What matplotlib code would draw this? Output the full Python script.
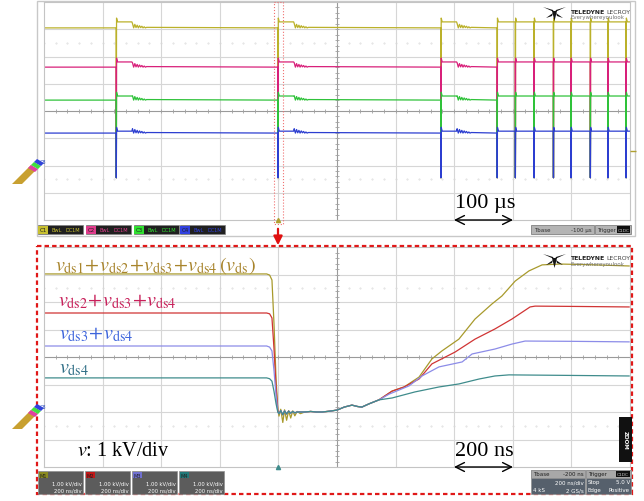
import numpy as np
import matplotlib.pyplot as plt
from matplotlib.patches import Rectangle, Polygon

plt.rcParams['mathtext.fontset'] = 'stix'
plt.rcParams['font.family'] = 'DejaVu Sans'

# ---------------- top screen (100 us/div, levels in divisions) ----------------
pulse_us = [123, 399, 677, 773, 804, 836, 869, 899, 932, 962, 993]
burst_from = 773          # from this pulse on the traces stay raised
top_base = [3.05, 1.61, 0.40, -0.81]
top_up = [0.22, 0.19, 0.15, 0.07]
top_colors = ['#bbb12a', '#d8207a', '#2fc23a', '#2c3ed0']
spike_low = -2.45
hold_us = 27
ring = [0.16, 0.0, 0.13, 0.01, 0.1, 0.0, 0.08, 0.01, 0.06, 0.0, 0.04, 0.0, 0.02]

# ---------------- zoomed screen (200 ns/div, kV) ----------------
names = ['yel', 'red', 'blu', 'teal']
bot_colors = ['#a89a2c', '#d03434', '#8c8ce8', '#3f8c8c']
drop_t = [0, 760, 770, 778, 785, 792, 798]
drop_v = {
    'yel': [5.02, 5.02, 4.98, 4.8, 3.2, 1.2, 0.1],
    'red': [3.6, 3.6, 3.57, 3.42, 2.3, 0.9, 0.05],
    'blu': [2.4, 2.4, 2.36, 2.22, 1.5, 0.6, 0.0],
    'teal': [1.24, 1.24, 1.21, 1.12, 0.75, 0.3, 0.0],
}
low_t = [802, 808, 815, 821, 828, 835, 842, 849, 856, 864, 875, 890, 910, 930,
         949, 975, 1000, 1025, 1051, 1070, 1085, 1110, 1143]
low_v_yel = [-0.15, 0.1, -0.38, 0.08, -0.3, 0.05, -0.22, 0.04, -0.14, 0.02, -0.06, 0.0,
             0.02, 0.0, 0.0, 0.03, 0.07, 0.18, 0.25, 0.2, 0.18, 0.3, 0.44]
low_v_rest = [-0.06, 0.05, -0.1, 0.04, -0.07, 0.03, -0.04, 0.02, -0.03, 0.0, 0.0, 0.0,
              0.02, 0.0, 0.0, 0.03, 0.07, 0.18, 0.25, 0.2, 0.18, 0.3, 0.44]
rise_t = {
    'yel': [1188, 1229, 1280, 1324, 1358, 1416, 1471, 1529, 1563, 1608, 1655, 1700, 1761, 1850, 1997],
    'red': [1188, 1229, 1280, 1324, 1403, 1471, 1539, 1597, 1659, 1676, 1800, 1997],
    'blu': [1178, 1246, 1290, 1348, 1427, 1461, 1539, 1597, 1642, 1800, 1997],
    'teal': [1188, 1266, 1348, 1416, 1485, 1539, 1587, 1800, 1997],
}
rise_v = {
    'yel': [0.76, 0.91, 1.27, 1.93, 2.22, 2.65, 3.38, 3.93, 4.22, 4.76, 5.13, 5.35, 5.38, 5.36, 5.31],
    'red': [0.76, 0.91, 1.2, 1.75, 2.18, 2.65, 3.02, 3.38, 3.82, 3.85, 3.84, 3.82],
    'blu': [0.65, 0.95, 1.31, 1.64, 1.82, 2.11, 2.29, 2.47, 2.58, 2.57, 2.55],
    'teal': [0.51, 0.73, 0.91, 1.02, 1.2, 1.31, 1.35, 1.33, 1.31],
}
labels = [r'$v_{\rm ds1}\!+\!v_{\rm ds2}\!+\!v_{\rm ds3}\!+\!v_{\rm ds4}\,(v_{\rm ds})$',
          r'$v_{\rm ds2}\!+\!v_{\rm ds3}\!+\!v_{\rm ds4}$',
          r'$v_{\rm ds3}\!+\!v_{\rm ds4}$',
          r'$v_{\rm ds4}$']
label_colors = ['#a8842c', '#c8205a', '#3c64dc', '#2f6e86']


def top_trace(base, up):
    t, v = [0], [base]
    for p in pulse_us:
        before = base + up if p > burst_from else base
        t += [p, p + 0.4, p + 0.8, p + 2.5]
        v += [before, spike_low, base + up + 0.14, base + up]
        if p < burst_from:
            t.append(p + hold_us)
            v.append(base + up)
            for k, r in enumerate(ring):
                t.append(p + hold_us + 1 + 2 * k)
                v.append(base + r)
    t.append(1000)
    v.append(v[-1])
    return t, v


def scope_grid(ax, xs, ys):
    xc, yc = xs[len(xs) // 2], ys[len(ys) // 2]
    for x in xs[1:-1]:
        ax.axvline(x, color='#9a9a9a' if x == xc else '#d6d6d6', lw=0.8, zorder=0)
    for y in ys[1:-1]:
        ax.axhline(y, color='#9a9a9a' if y == yc else '#d6d6d6', lw=0.8, zorder=0)
    fx = np.linspace(xs[0], xs[-1], 51)
    fy = np.linspace(ys[0], ys[-1], 41)
    ax.plot(fx, [yc] * len(fx), ls='none', marker='|', ms=3, color='#a0a0a0', mew=0.6, zorder=0)
    ax.plot([xc] * len(fy), fy, ls='none', marker='_', ms=3, color='#a0a0a0', mew=0.6, zorder=0)
    dy = (ys[1] - ys[0]) * 2.5
    for y in (yc - dy, yc + dy):
        ax.plot(fx, [y] * len(fx), ls='none', marker='.', ms=0.8, color='#d8d8d8', zorder=0)
    ax.set_xlim(xs[0], xs[-1])
    ax.set_ylim(ys[0], ys[-1])
    ax.set_xticks([])
    ax.set_yticks([])
    for s in ax.spines.values():
        s.set_color('#c4c4c4')


fig = plt.figure(figsize=(6.44, 5.02), dpi=100)

ax1 = fig.add_axes([44 / 644, 1 - 221 / 502, 586 / 644, 218 / 502])
scope_grid(ax1, np.linspace(0, 1000, 11), np.linspace(-4, 4, 9))
for base, up, c in zip(top_base, top_up, top_colors):
    t, v = top_trace(base, up)
    ax1.plot(t, v, color=c, lw=0.9)

ax2 = fig.add_axes([44 / 644, 1 - 468 / 502, 586 / 644, 220 / 502])
scope_grid(ax2, np.linspace(0, 2000, 11), np.linspace(-2, 6, 9))
for n, c in zip(names, bot_colors):
    t = drop_t + low_t + rise_t[n]
    v = drop_v[n] + (low_v_yel if n == 'yel' else low_v_rest) + rise_v[n]
    ax2.plot(t, v, color=c, lw=0.9)

# ---------------- overlay in pixel coordinates ----------------
ov = fig.add_axes([0, 0, 1, 1], zorder=5)
ov.set_xlim(0, 644)
ov.set_ylim(502, 0)
ov.axis('off')
ov.patch.set_alpha(0)

ov.add_patch(Rectangle((37, 2), 598, 235, fill=False, ec='#c8c8c8', lw=1))
ov.add_patch(Rectangle((274, 3), 9, 222, fill=False, ec='#f07070', lw=0.8, ls=':'))
ov.annotate('', xy=(278, 249), xytext=(278, 227),
            arrowprops=dict(arrowstyle='-|>', color='#e01010', lw=1.6, mutation_scale=13))
ov.add_patch(Rectangle((37, 247), 595, 248, fill=False, ec='#e01818', lw=1.6, ls=(0, (2, 1.4))))

serif = 'Liberation Serif'
for y in (221, 468):
    ov.annotate('', xy=(513, y), xytext=(454, y),
                arrowprops=dict(arrowstyle='<->', color='black', lw=1, mutation_scale=16,
                                shrinkA=0, shrinkB=0))
ov.text(455, 204, '100 µs', family=serif, fontsize=16, va='center', ha='left')
ov.text(455, 452, '200 ns', family=serif, fontsize=16, va='center', ha='left')
ov.text(77, 452, r'$v$: 1 kV/div', family=serif, fontsize=14.5, va='center', ha='left')

for lab, c, (x, y) in zip(labels, label_colors, [(55, 266), (58, 302), (59, 335), (59, 369)]):
    ov.text(x, y, lab, color=c, fontsize=14.5, va='center', ha='left')

# trigger markers
ov.plot([278], [221], marker='^', ms=3, color='#b0a030')
ov.plot([278], [468], marker='^', ms=3, color='#3f8c8c')
ov.plot([633], [152], marker='_', ms=4, color='#b0a030')

# channel badges (top)
c_lab = ['C1', 'C2', 'C3', 'C4']
c_bg = ['#c8c030', '#e03c8c', '#30e030', '#3040e0']
c_x = [38, 86, 134, 180]
for lab, bg, x in zip(c_lab, c_bg, c_x):
    ov.add_patch(Rectangle((x, 226), 45, 9, fc='#202020', ec='#808080', lw=0.5))
    ov.add_patch(Rectangle((x + 0.5, 226.5), 10, 8, fc=bg, ec='none'))
    ov.text(x + 5.5, 230.6, lab, fontsize=4, ha='center', va='center', color='#202020')
    ov.text(x + 19, 230.6, 'BwL', fontsize=3.6, ha='center', va='center', color=bg)
    ov.text(x + 35, 230.6, 'DC1M', fontsize=3.6, ha='center', va='center', color=bg)

ov.add_patch(Rectangle((531, 226), 63, 9, fc='#b4b4b4', ec='#707070', lw=0.5))
ov.text(534, 230.6, 'Tbase', fontsize=4, va='center', color='#303030')
ov.text(592, 230.6, '-100 µs', fontsize=4, va='center', ha='right', color='#303030')
ov.add_patch(Rectangle((595, 226), 36, 9, fc='#b4b4b4', ec='#707070', lw=0.5))
ov.text(597, 230.6, 'Trigger', fontsize=4, va='center', color='#303030')
ov.add_patch(Rectangle((617, 227), 13, 7, fc='#101010', ec='none'))
ov.text(623.5, 230.6, 'C1DC', fontsize=3.2, va='center', ha='center', color='#c8c8c8')

# math badges (bottom)
m_lab = ['M1', 'M2', 'M3', 'M4']
m_bg = ['#8a8a20', '#c01818', '#7070d0', '#207878']
m_x = [38, 85, 132, 179]
for lab, bg, x in zip(m_lab, m_bg, m_x):
    ov.add_patch(Rectangle((x, 472), 45, 23, fc='#5c5c5c', ec='#909090', lw=0.5))
    ov.add_patch(Rectangle((x + 1, 473), 9, 6, fc=bg, ec='none'))
    ov.text(x + 5.5, 476.2, lab, fontsize=3.6, ha='center', va='center', color='#202020')
    ov.text(x + 44, 484, '1.00 kV/div', fontsize=3.8, ha='right', va='center', color='white')
    ov.text(x + 44, 491, '200 ns/div', fontsize=3.8, ha='right', va='center', color='white')

ov.add_patch(Rectangle((531, 471), 54, 24, fc='#56606c', ec='#909090', lw=0.5))
ov.add_patch(Rectangle((531, 471), 54, 8, fc='#a8a8a8', ec='#909090', lw=0.5))
ov.text(533, 475, 'Tbase', fontsize=4, va='center', color='#202020')
ov.text(584, 475, '-200 ns', fontsize=4, va='center', ha='right', color='#202020')
ov.text(584, 483, '200 ns/div', fontsize=4, va='center', ha='right', color='white')
ov.text(533, 491, '4 kS', fontsize=4, va='center', color='white')
ov.text(584, 491, '2 GS/s', fontsize=4, va='center', ha='right', color='white')
ov.add_patch(Rectangle((586, 471), 45, 24, fc='#56606c', ec='#909090', lw=0.5))
ov.add_patch(Rectangle((586, 471), 45, 8, fc='#a8a8a8', ec='#909090', lw=0.5))
ov.text(588, 475, 'Trigger', fontsize=4, va='center', color='#202020')
ov.add_patch(Rectangle((616, 472), 14, 6, fc='#101010', ec='none'))
ov.text(623, 475, 'C1DC', fontsize=3.2, va='center', ha='center', color='#c8c8c8')
ov.text(588, 483, 'Stop', fontsize=4, va='center', color='white')
ov.text(630, 483, '5.0 V', fontsize=4, va='center', ha='right', color='white')
ov.text(588, 491, 'Edge', fontsize=4, va='center', color='white')
ov.text(630, 491, 'Positive', fontsize=4, va='center', ha='right', color='white')

# zoom tab
ov.add_patch(Rectangle((619, 418), 13, 45, fc='#111111', ec='none'))
ov.text(625.5, 440, 'ZOOM', rotation=270, fontsize=4, weight='bold', ha='center', va='center',
        color='white')


# Teledyne LeCroy logos
def logo(x, y):
    ov.add_patch(Polygon([(x, y), (x + 10, y + 3), (x + 11, y + 5)], fc='#151515', ec='none'))
    ov.add_patch(Polygon([(x + 23, y), (x + 13, y + 3), (x + 12, y + 5)], fc='#151515', ec='none'))
    ov.add_patch(Polygon([(x + 9, y + 4), (x + 14, y + 4), (x + 11.5, y + 14)], fc='#151515', ec='none'))
    ov.add_patch(Polygon([(x + 3, y + 11), (x + 10, y + 6), (x + 9, y + 9)], fc='#151515', ec='none'))
    ov.add_patch(Polygon([(x + 20, y + 11), (x + 13, y + 6), (x + 14, y + 9)], fc='#151515', ec='none'))
    ov.text(x + 28, y + 4, 'TELEDYNE', fontsize=4.4, weight='bold', va='center', color='#202020')
    ov.text(x + 87, y + 4, 'LECROY', fontsize=4.4, va='center', ha='right', color='#404040')
    ov.text(x + 28, y + 9.5, 'Everywhereyoulook', fontsize=4.0, va='center', color='#707070')


logo(543, 8)
logo(543, 255)


# probe icons at the left
def icon(x, y):
    ov.add_patch(Polygon([(x, y + 24), (x + 10, y + 24), (x + 24, y + 10), (x + 19, y + 5),
                          (x + 6, y + 18)], fc='#c8a030', ec='none'))
    for k, c in enumerate(['#e040a0', '#40e040', '#3040e0']):
        d = 3 * k
        ov.add_patch(Polygon([(x + 16 + d, y + 8 - d), (x + 19 + d, y + 5 - d),
                              (x + 26 + d, y + 9 - d), (x + 23 + d, y + 12 - d)],
                             fc=c, ec='none'))
    ov.text(x + 28, y + 2, 'C8', fontsize=3.5, color='#3050c0', va='center')


icon(12, 161)
icon(12, 406)

fig.savefig('out.png', dpi=100)
